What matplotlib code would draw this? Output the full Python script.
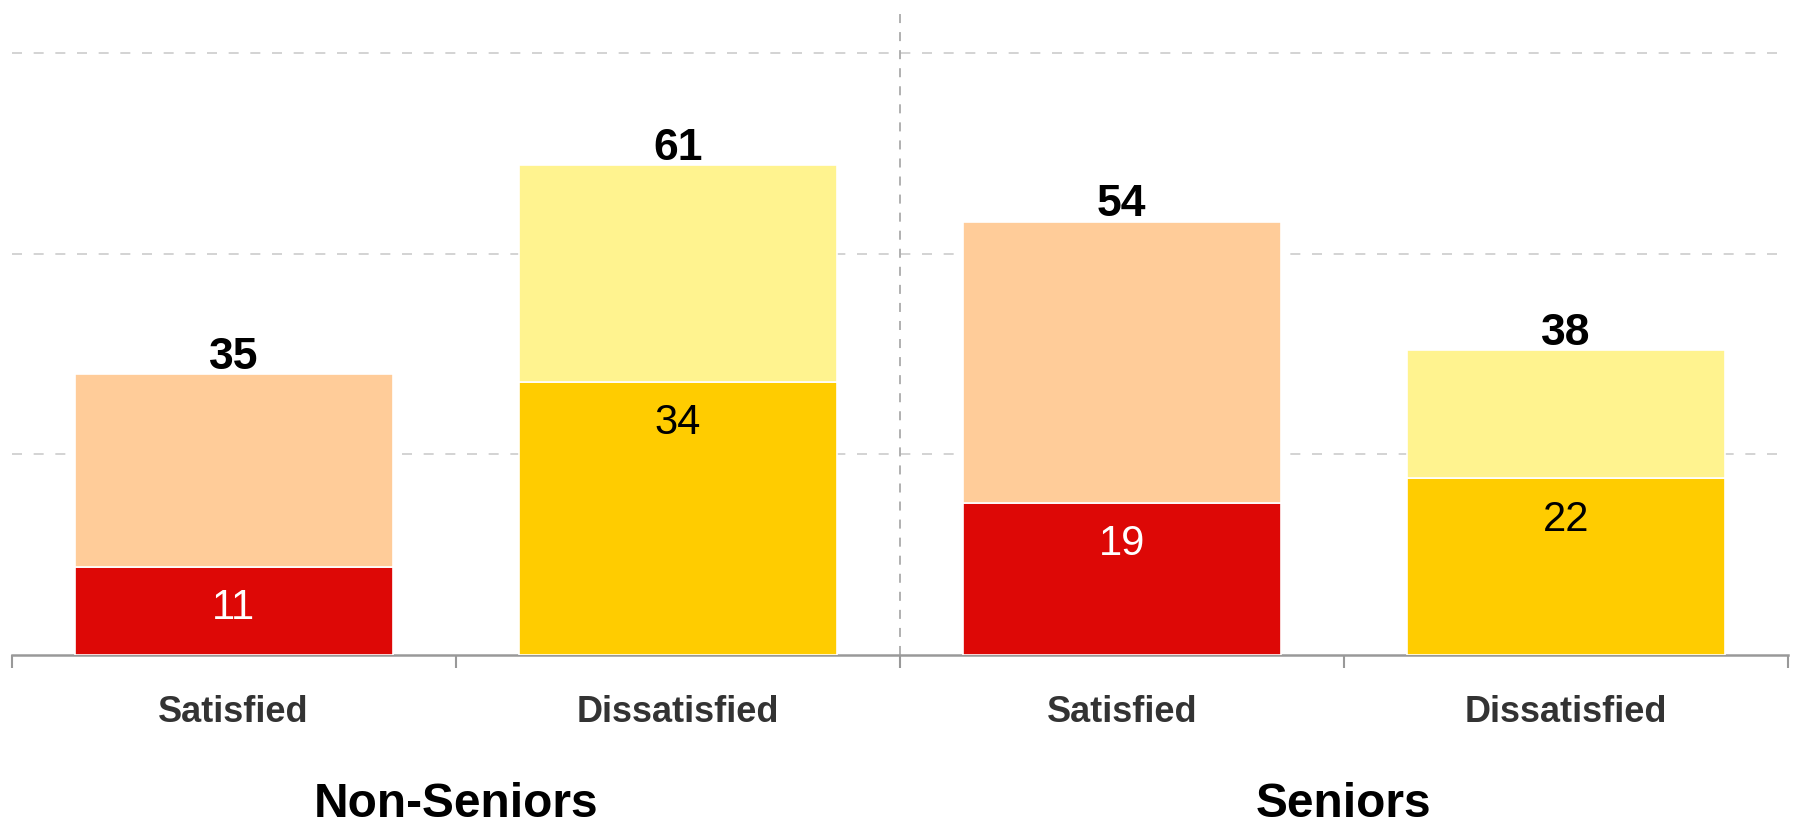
import matplotlib
matplotlib.use("Agg")
import matplotlib.pyplot as plt

categories = ["Satisfied", "Dissatisfied", "Satisfied", "Dissatisfied"]
groups = ["Non-Seniors", "Seniors"]
strong_values = [11, 34, 19, 22]
total_values = [35, 61, 54, 38]
strong_colors = ["#DD0806", "#FFCC00", "#DD0806", "#FFCC00"]
light_colors = ["#FFCC99", "#FFF38F", "#FFCC99", "#FFF38F"]
strong_text_colors = ["white", "black", "white", "black"]

plt.rcParams['font.family'] = ['Liberation Sans', 'DejaVu Sans']

W, H = 1797, 829
fig = plt.figure(figsize=(W / 100, H / 100), dpi=100)
ax = fig.add_axes([11.5 / W, (H - 656) / H, (1788 - 11.5) / W, 650 / H])

x = list(range(len(categories)))
rest = [t - s for t, s in zip(total_values, strong_values)]
bw = 0.716
ax.bar(x, strong_values, width=bw, color=strong_colors, edgecolor="white", linewidth=1.2, zorder=3)
ax.bar(x, rest, bottom=strong_values, width=bw, color=light_colors, edgecolor="white", linewidth=1.2, zorder=3)

for xi, s, t, tc in zip(x, strong_values, total_values, strong_text_colors):
    ax.annotate(str(t), (xi, t), xytext=(0, 4.5), textcoords="offset points",
                ha="center", va="baseline", fontsize=32, fontweight="bold", color="black", zorder=4)
    ax.annotate(str(s), (xi, s), xytext=(0, -29), textcoords="offset points",
                ha="center", va="center", fontsize=30, color=tc, zorder=4)

ax.set_xlim(-0.5, len(categories) - 0.5)
ax.set_ylim(0, 81)

for yv in [25, 50, 75]:
    ax.axhline(yv, color="#CCCCCC", linewidth=1.2, dashes=(6, 7), zorder=1)
ax.axvline(1.5, color="#AAAAAA", linewidth=1.3, dashes=(5, 5), zorder=1)

for sp in ["top", "right", "left"]:
    ax.spines[sp].set_visible(False)
ax.spines["bottom"].set_color("#999999")
ax.spines["bottom"].set_linewidth(1.8)
ax.set_yticks([])
ax.set_xticks([i - 0.5 for i in range(len(categories) + 1)])
ax.set_xticklabels([])
ax.tick_params(axis="x", length=9, width=1.5, color="#999999", direction="out")

for xi, c in zip(x, categories):
    ax.text(xi, -56 / 8.02, c, ha="center", va="center", fontsize=26, fontweight="bold",
            color="#333333", transform=ax.transData, clip_on=False)
for gi, g in enumerate(groups):
    ax.text(2 * gi + 0.5, -148 / 8.02, g, ha="center", va="center", fontsize=34.5, fontweight="bold",
            color="black", transform=ax.transData, clip_on=False)

fig.savefig("out.png", dpi=100)
